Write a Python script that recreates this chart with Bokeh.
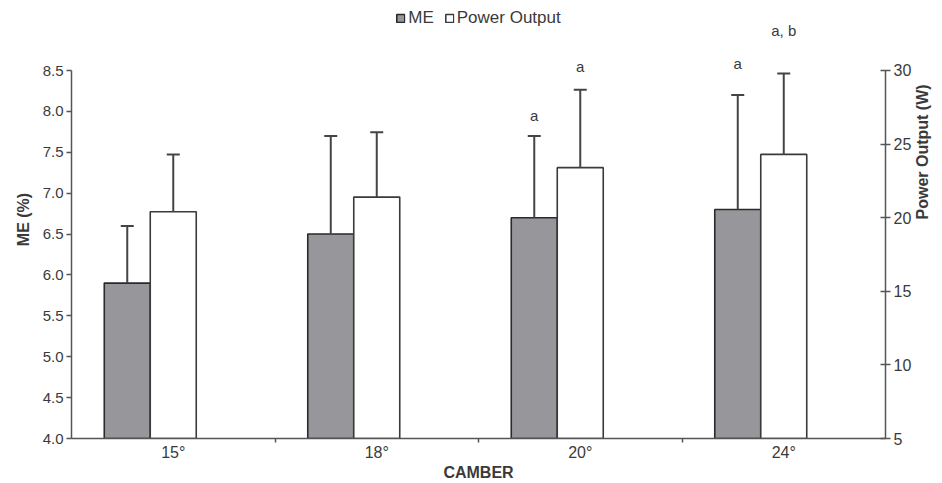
import math
import numpy as np
from bokeh.plotting import figure
from bokeh.models import (Range1d, LinearAxis, FixedTicker, Whisker, TeeHead,
                          ColumnDataSource, Legend, LegendItem)
from bokeh.core.properties import value
from bokeh.embed import file_html
from bokeh.resources import INLINE

# ---- data ----
cambers = ["15°", "18°", "20°", "24°"]
me_mean = [5.9, 6.5, 6.7, 6.8]
me_sd = [0.7, 1.2, 1.0, 1.4]
pw_mean = [20.4, 21.4, 23.4, 24.3]
pw_sd = [3.9, 4.4, 5.3, 5.5]
me_sig = ["", "", "a", "a"]
pw_sig = ["", "", "a", "a, b"]
me_ticks = [4.0, 4.5, 5.0, 5.5, 6.0, 6.5, 7.0, 7.5, 8.0, 8.5]
pw_ticks = [5, 10, 15, 20, 25, 30]

# ---- style ----
FONT = "Liberation Sans"
TXT = "#3a3a3a"
AX = "#555555"
bar_w = 0.226
me_label_off = [0, 0, -20, -32]
pw_label_off = [0, 0, -23, -43]

n = len(cambers)
idx = np.arange(n)
x_me = idx + 0.5 - bar_w
x_pw = idx + 0.5

p = figure(width=942, height=483, x_range=Range1d(0, n),
           y_range=Range1d(4, 9.356), output_backend="svg",
           toolbar_location=None, min_border_left=71, min_border_right=57,
           min_border_top=0, min_border_bottom=45)
p.extra_y_ranges = {"pw": Range1d(5, 34.755)}
p.outline_line_color = None
p.xgrid.grid_line_color = None
p.ygrid.grid_line_color = None
p.background_fill_color = "white"
p.border_fill_color = "white"

src_me = ColumnDataSource(dict(x=x_me, top=me_mean, up=np.array(me_mean) + np.array(me_sd)))
src_pw = ColumnDataSource(dict(x=x_pw, top=pw_mean, up=np.array(pw_mean) + np.array(pw_sd)))

r_me = p.vbar(x="x", top="top", bottom=4, width=bar_w, source=src_me,
              fill_color="#97979b", line_color="#2a2a2a", line_width=1.6)
r_pw = p.vbar(x="x", top="top", bottom=5, width=bar_w, source=src_pw,
              fill_color="white", line_color="#3a3a3a", line_width=1.6,
              y_range_name="pw")

for src, rng in ((src_me, "default"), (src_pw, "pw")):
    w = Whisker(base="x", lower="top", upper="up", source=src,
                line_color="#444444", line_width=2,
                upper_head=TeeHead(size=13, line_color="#444444", line_width=2),
                lower_head=None, y_range_name=rng, level="overlay")
    p.add_layout(w)

# significance labels
def sig_source(xs, ups, labs, offs):
    keep = [i for i, s in enumerate(labs) if s]
    return ColumnDataSource(dict(x=[xs[i] for i in keep], y=[ups[i] for i in keep],
                                 t=[labs[i] for i in keep], off=[offs[i] for i in keep]))

me_up = list(np.array(me_mean) + np.array(me_sd))
pw_up = list(np.array(pw_mean) + np.array(pw_sd))
p.text(x="x", y="y", text="t", y_offset="off", source=sig_source(list(x_me), me_up, me_sig, me_label_off),
       text_align="center", text_baseline="middle", text_font=value(FONT),
       text_font_size="15px", text_color=TXT)
p.text(x="x", y="y", text="t", y_offset="off", source=sig_source(list(x_pw), pw_up, pw_sig, pw_label_off),
       text_align="center", text_baseline="middle", text_font=value(FONT),
       text_font_size="15px", text_color=TXT, y_range_name="pw")

# x axis
xa = p.xaxis[0]
xa.ticker = FixedTicker(ticks=list(idx + 0.5), minor_ticks=list(range(1, n)))
xa.major_label_overrides = {float(i + 0.5): c for i, c in enumerate(cambers)}
xa.major_tick_in = 0
xa.major_tick_out = 0
xa.minor_tick_in = 0
xa.minor_tick_out = 4
xa.minor_tick_line_color = AX
xa.minor_tick_line_width = 1.5
xa.axis_line_color = AX
xa.axis_line_width = 1.5
xa.major_label_text_font = FONT
xa.major_label_text_font_size = "16px"
xa.major_label_text_color = TXT
xa.major_label_standoff = 1
xa.axis_label = "CAMBER"
xa.axis_label_text_font = FONT
xa.axis_label_text_font_size = "16px"
xa.axis_label_text_font_style = "bold"
xa.axis_label_text_color = TXT
xa.axis_label_standoff = 0

# left axis
ya = p.yaxis[0]
ya.ticker = FixedTicker(ticks=me_ticks)
ya.major_label_overrides = {t: f"{t:.1f}" for t in me_ticks}
ya.bounds = (me_ticks[0], me_ticks[-1])
ya.major_tick_in = 0
ya.major_tick_out = 5
ya.minor_tick_line_color = None
ya.major_tick_line_color = AX
ya.major_tick_line_width = 1.5
ya.axis_line_color = AX
ya.axis_line_width = 1.5
ya.major_label_text_font = FONT
ya.major_label_text_font_size = "15px"
ya.major_label_text_color = TXT
ya.major_label_standoff = 3
ya.axis_label = "ME (%)"
ya.axis_label_text_font = FONT
ya.axis_label_text_font_size = "16px"
ya.axis_label_text_font_style = "bold"
ya.axis_label_text_color = TXT
ya.axis_label_standoff = 8

# right axis
ra = LinearAxis(y_range_name="pw", ticker=FixedTicker(ticks=pw_ticks))
ra.bounds = (pw_ticks[0], pw_ticks[-1])
ra.major_tick_in = 5
ra.major_tick_out = 5
ra.minor_tick_line_color = None
ra.major_tick_line_color = AX
ra.major_tick_line_width = 1.5
ra.axis_line_color = AX
ra.axis_line_width = 1.5
ra.major_label_text_font = FONT
ra.major_label_text_font_size = "16px"
ra.major_label_text_color = TXT
ra.major_label_standoff = 3
ra.axis_label = "Power Output (W)"
ra.axis_label_orientation = math.pi / 2
ra.axis_label_text_font = FONT
ra.axis_label_text_font_size = "16px"
ra.axis_label_text_font_style = "bold"
ra.axis_label_text_color = TXT
ra.axis_label_standoff = 8
p.add_layout(ra, "right")

legend = Legend(items=[LegendItem(label="ME", renderers=[r_me]),
                       LegendItem(label="Power Output", renderers=[r_pw])],
                location="top_center", orientation="horizontal",
                glyph_width=10, glyph_height=10, label_standoff=3, spacing=10,
                padding=0, margin=8, border_line_color=None,
                background_fill_alpha=0,
                label_text_font=FONT, label_text_font_size="17px",
                label_text_color=TXT)
p.add_layout(legend)

open("out.html", "w").write(file_html(p, INLINE))
